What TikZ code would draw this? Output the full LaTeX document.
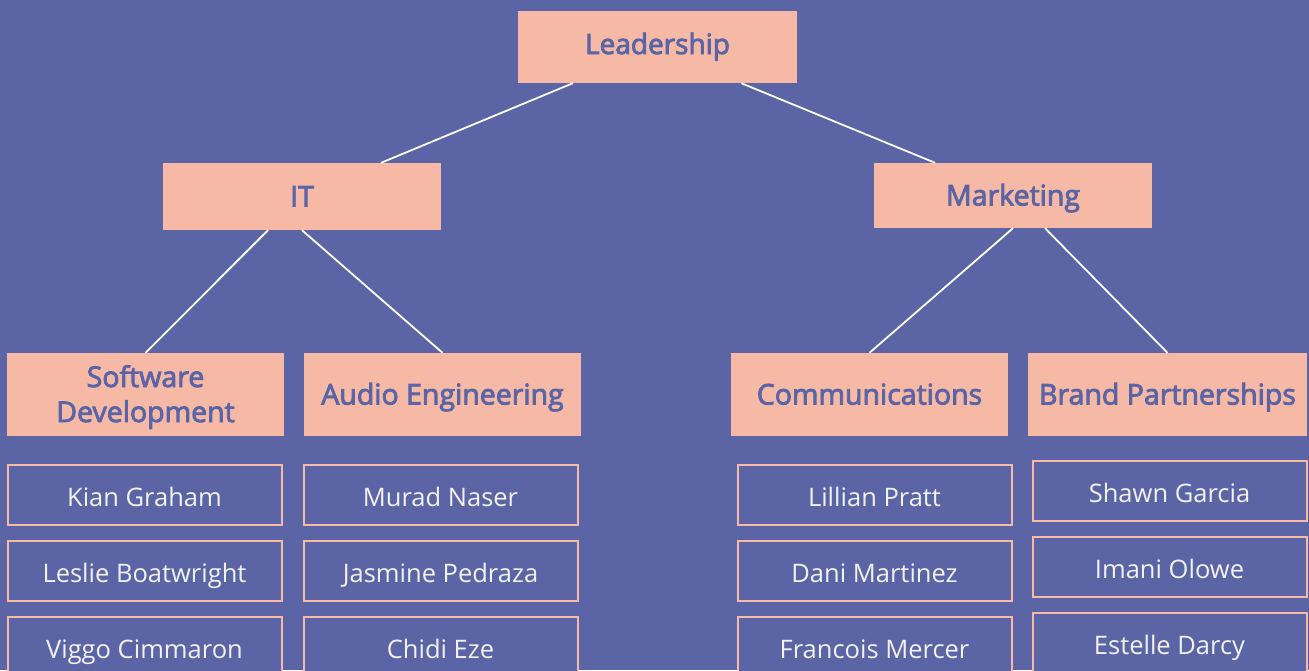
\documentclass[tikz,border=0pt]{standalone}
\usepackage{fontspec}
\setmainfont{Open Sans}
\newfontfamily\unitfont[FakeBold=3]{Open Sans}
\usetikzlibrary{calc}
\definecolor{bgblue}{HTML}{5B65A5}
\definecolor{peach}{HTML}{F5B9A5}
\definecolor{nametext}{HTML}{F2F2F2}
\tikzset{
  unitbox/.style={draw=none, fill=peach, text=bgblue, inner sep=0pt,
    align=center, text height=27pt, text depth=7pt,
    font=\unitfont\fontsize{28.5}{35}\selectfont},
  personbox/.style={draw=peach, line width=2pt, fill=bgblue, text=nametext,
    inner sep=0pt, minimum width=274pt, minimum height=60pt,
    text height=29pt, text depth=6pt,
    font=\fontsize{25.5}{30}\selectfont},
  link/.style={draw=white, line width=1.8pt}
}
\begin{document}
\begin{tikzpicture}[x=1pt,y=-1pt]
  \fill[bgblue] (0,0) rectangle (1309,670);
  \useasboundingbox (0,0) rectangle (1309,670);
  \begin{scope}
  \clip (0,0) rectangle (1309,670);

  % top level
  \node[unitbox, minimum width=279pt, minimum height=72pt,
        text height=21pt, text depth=7pt,
        font=\unitfont\fontsize{28}{34}\selectfont] (lead) at (657.5,47) {Leadership};

  % departments
  \node[unitbox, minimum width=278pt, minimum height=67pt] (it) at (302,196.5) {IT};
  \node[unitbox, minimum width=278pt, minimum height=65pt] (mkt) at (1013,195.5) {Marketing};

  % teams
  \node[unitbox, minimum width=277pt, minimum height=83pt,
        text height=62pt, text depth=7pt] (sw) at (145.5,394.5) {Software\\Development};
  \node[unitbox, minimum width=277pt, minimum height=83pt] (audio) at (442.5,394.5) {Audio Engineering};
  \node[unitbox, minimum width=277pt, minimum height=83pt] (comm) at (869.5,394.5) {Communications};
  \node[unitbox, minimum width=279pt, minimum height=83pt] (brand) at (1167.5,394.5) {Brand Partnerships};

  % people
  \node[personbox] (p11) at (144.5,494.5) {Kian Graham};
  \node[personbox] (p12) at (144.5,570.5) {Leslie Boatwright};
  \node[personbox] (p13) at (144.5,646.5) {Viggo Cimmaron};
  \node[personbox] (p21) at (440.5,494.5) {Murad Naser};
  \node[personbox] (p22) at (440.5,570.5) {Jasmine Pedraza};
  \node[personbox] (p23) at (440.5,646.5) {Chidi Eze};
  \node[personbox] (p31) at (874.5,494.5) {Lillian Pratt};
  \node[personbox] (p32) at (874.5,571) {Dani Martinez};
  \node[personbox] (p33) at (874.5,647) {Francois Mercer};
  \node[personbox] (p41) at (1169.5,491) {Shawn Garcia};
  \node[personbox] (p42) at (1169.5,567) {Imani Olowe};
  \node[personbox] (p43) at (1169.5,643) {Estelle Darcy};

  % connectors
  \draw[link] ($(lead.south west)!0.197!(lead.south east)$) -- ($(it.north west)!0.784!(it.north east)$);
  \draw[link] ($(lead.south west)!0.8!(lead.south east)$) -- ($(mkt.north west)!0.22!(mkt.north east)$);
  \draw[link] ($(it.south west)!0.378!(it.south east)$) -- (sw.north);
  \draw[link] (it.south) -- (audio.north);
  \draw[link] (mkt.south) -- (comm.north);
  \draw[link] ($(mkt.south west)!0.615!(mkt.south east)$) -- (brand.north);
  \end{scope}
\end{tikzpicture}
\end{document}
